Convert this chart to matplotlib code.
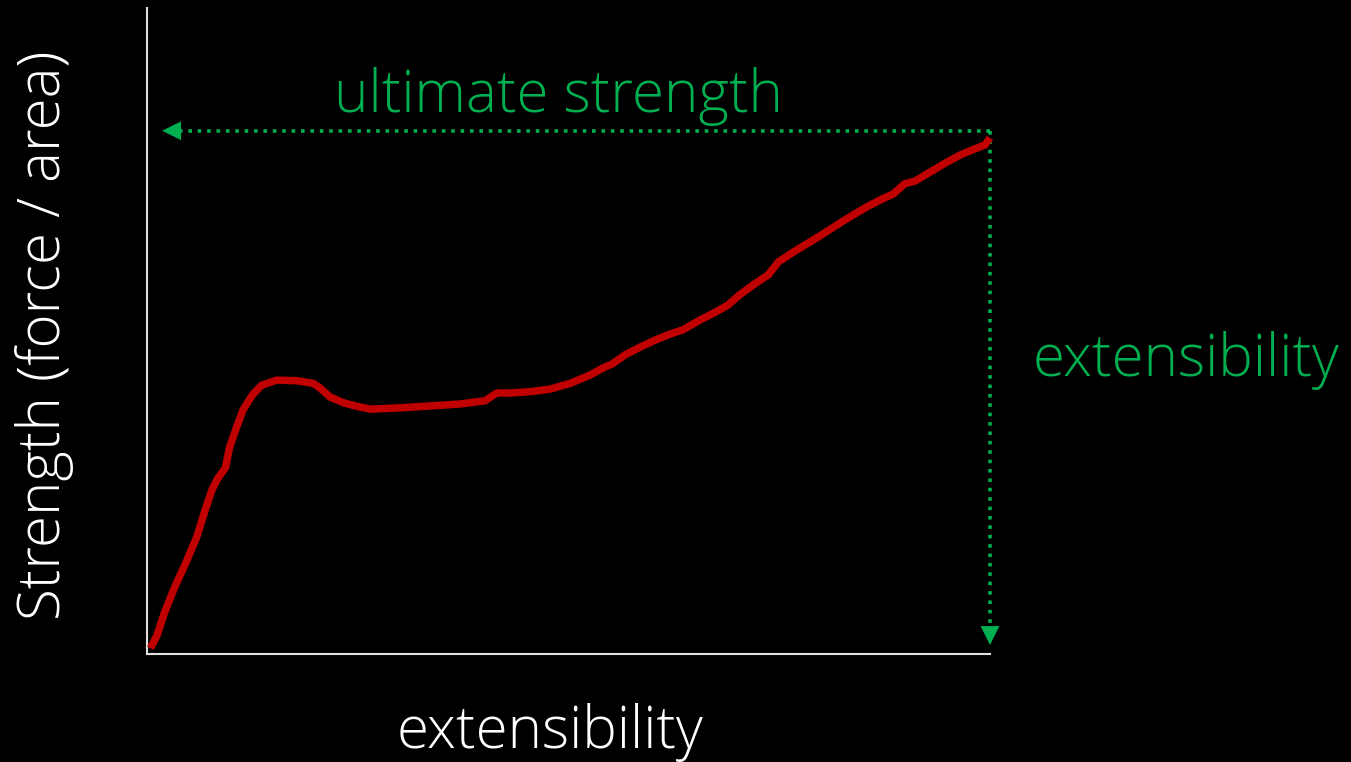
import numpy as np
import matplotlib.pyplot as plt

# curve (extensibility %, strength %)
ext = [0.4, 1.2, 2.1, 3.3, 4.5, 5.9, 6.9, 7.7, 8.4, 9.3, 9.8, 10.6, 11.4, 12.5, 13.6,
       15.4, 17.8, 19.7, 20.5, 21.7, 23.3, 24.7, 26.5, 30.0, 33.6, 37.1, 40.1, 41.5,
       43.1, 45.4, 47.8, 50.2, 52.6, 54.1, 55.2, 56.7, 58.5, 60.3, 62.0, 63.6, 65.6,
       67.4, 68.9, 70.3, 72.1, 73.7, 74.9, 76.9, 79.8, 82.8, 85.5, 87.0, 88.5, 89.9,
       91.1, 92.9, 94.7, 96.4, 98.2, 99.4, 100.0]
strength = [0.9, 2.9, 6.5, 10.4, 13.8, 18.1, 22.3, 25.4, 27.2, 28.8, 32.0, 35.0, 37.8, 40.1, 41.6,
            42.4, 42.3, 41.9, 41.2, 39.8, 38.9, 38.4, 37.9, 38.1, 38.4, 38.7, 39.2, 40.4,
            40.4, 40.6, 41.0, 41.9, 43.2, 44.3, 44.9, 46.3, 47.5, 48.6, 49.5, 50.2, 51.7,
            52.9, 54.0, 55.6, 57.3, 58.7, 60.7, 62.4, 64.7, 67.2, 69.3, 70.3, 71.2, 72.8,
            73.2, 74.6, 76.0, 77.2, 78.2, 78.8, 79.9]

ult_level = 81.0
ult_tip = 1.8
ext_tip = 1.4

green = '#00B050'
red = '#C00000'
font = ['Open Sans', 'DejaVu Sans']

fig = plt.figure(figsize=(13.51, 7.62), dpi=100, facecolor='black')
ax = fig.add_axes([147/1351, 108/762, 843/1351, 646/762])
ax.set_facecolor('black')
ax.set_xlim(0, 100)
ax.set_ylim(0, 100)
for s in ['top', 'right']:
    ax.spines[s].set_visible(False)
for s in ['left', 'bottom']:
    ax.spines[s].set_color('#e0e0e0')
    ax.spines[s].set_linewidth(1.5)
ax.set_xticks([])
ax.set_yticks([])

ax.plot(ext, strength, color=red, linewidth=5.4, solid_capstyle='butt',
        solid_joinstyle='round', clip_on=False, zorder=3)

# dotted guide lines
ax.plot([100, ult_tip + 1.5], [ult_level, ult_level], color=green, linewidth=2.6,
        linestyle=(0, (1, 1.6)), clip_on=False)
ax.plot([100, 100], [ult_level, ext_tip + 2], color=green, linewidth=2.6,
        linestyle=(0, (1, 1.6)), clip_on=False)
ax.annotate('', xy=(ult_tip, ult_level), xytext=(ult_tip + 2.5, ult_level),
            arrowprops=dict(arrowstyle='-|>', color=green, lw=0, mutation_scale=34,
                            shrinkA=0, shrinkB=0), annotation_clip=False)
ax.annotate('', xy=(100, ext_tip), xytext=(100, ext_tip + 3.5),
            arrowprops=dict(arrowstyle='-|>', color=green, lw=0, mutation_scale=34,
                            shrinkA=0, shrinkB=0), annotation_clip=False)

fs = 42
fig.text(558/1351, 1 - 97/762, 'ultimate strength', color=green, fontsize=fs,
         family=font, weight='light', ha='center', va='center')
fig.text(1186/1351, 1 - 360/762, 'extensibility', color=green, fontsize=fs,
         family=font, weight='light', ha='center', va='center')
fig.text(550/1351, 1 - 733/762, 'extensibility', color='white', fontsize=fs,
         family=font, weight='light', ha='center', va='center')
fig.text(45/1351, 1 - 335/762, 'Strength (force / area)', color='white', fontsize=fs,
         family=font, weight='light', ha='center', va='center', rotation=90)

fig.savefig('out.png', dpi=100, facecolor='black')
